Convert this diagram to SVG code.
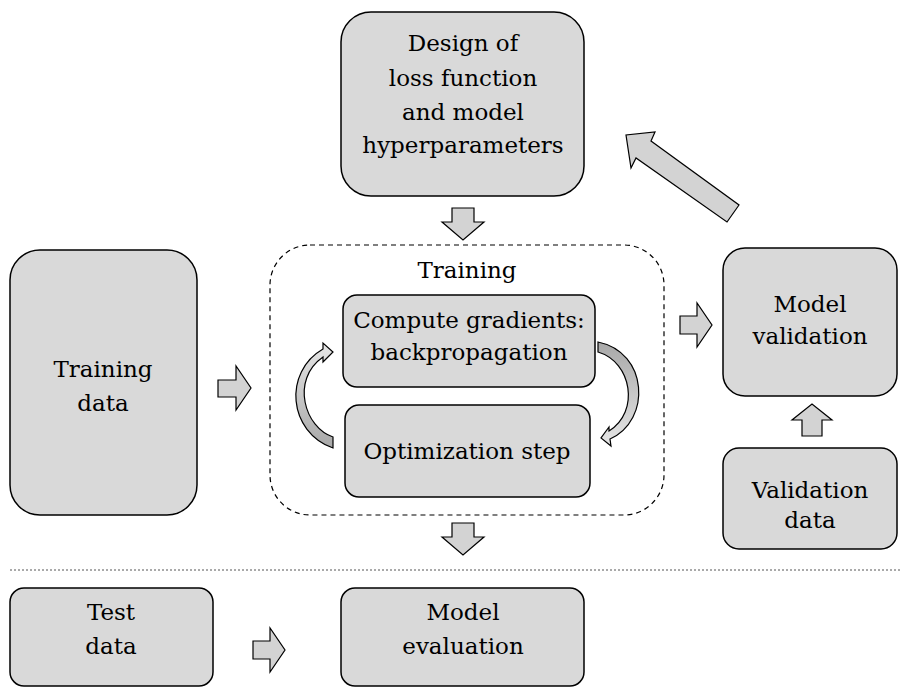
<svg xmlns="http://www.w3.org/2000/svg" width="902" height="687" viewBox="0 0 902 687">
<defs>
<style>
.box{fill:#d9d9d9;stroke:#000;stroke-width:1.5}
.arr{fill:#d3d3d3;stroke:#000;stroke-width:1.2;stroke-linejoin:miter}
.t{font-family:'DejaVu Serif','Liberation Serif',serif;font-size:23px;fill:#000;text-anchor:middle}
</style>
<linearGradient id="gL" x1="0" y1="0" x2="0" y2="1">
<stop offset="0" stop-color="#e6e6e6"/><stop offset="1" stop-color="#a8a8a8"/>
</linearGradient>
<linearGradient id="gR" x1="0" y1="0" x2="0" y2="1">
<stop offset="0" stop-color="#a8a8a8"/><stop offset="1" stop-color="#e6e6e6"/>
</linearGradient>
</defs>
<rect width="902" height="687" fill="#fff"/>
<g id="design">
<rect class="box" x="341" y="12" width="243" height="184" rx="30"/>
<text class="t" x="463" y="51">Design of</text>
<text class="t" x="463" y="86">loss function</text>
<text class="t" x="463" y="120">and model</text>
<text class="t" x="463" y="153">hyperparameters</text>
</g>
<g id="training-data">
<rect class="box" x="10" y="250" width="187" height="265" rx="30"/>
<text class="t" x="103" y="377">Training</text>
<text class="t" x="103" y="411">data</text>
</g>
<g id="training">
<rect x="270" y="245" width="394" height="270" rx="40" fill="none" stroke="#000" stroke-width="1.2" stroke-dasharray="5,4"/>
<text class="t" x="467" y="278">Training</text>
</g>
<g id="compute-gradients">
<rect class="box" x="343" y="295" width="252" height="92" rx="14"/>
<text class="t" x="469" y="328">Compute gradients:</text>
<text class="t" x="469" y="360">backpropagation</text>
</g>
<g id="optimization-step">
<rect class="box" x="345" y="405" width="245" height="92" rx="14"/>
<text class="t" x="467" y="459">Optimization step</text>
</g>
<g id="model-validation">
<rect class="box" x="723" y="248" width="174" height="148" rx="22"/>
<text class="t" x="810" y="312">Model</text>
<text class="t" x="810" y="344">validation</text>
</g>
<g id="validation-data">
<rect class="box" x="723" y="448" width="174" height="101" rx="16"/>
<text class="t" x="810" y="498">Validation</text>
<text class="t" x="810" y="528">data</text>
</g>
<g id="test-data">
<rect class="box" x="10" y="588" width="203" height="98" rx="14"/>
<text class="t" x="111" y="620">Test</text>
<text class="t" x="111" y="654">data</text>
</g>
<g id="model-evaluation">
<rect class="box" x="341" y="588" width="243" height="98" rx="14"/>
<text class="t" x="463" y="620">Model</text>
<text class="t" x="463" y="654">evaluation</text>
</g>
<g id="connectors">
<line x1="10" y1="570" x2="902" y2="570" stroke="#555" stroke-width="1" stroke-dasharray="2,2"/>
<path class="arr" d="M452,208 H474 V222 H484 L463,240 L442,222 H452 Z"/>
<path class="arr" d="M452,523 H474 V537 H484 L463,555 L442,537 H452 Z"/>
<path class="arr" d="M218,380 H236 V366 L251,388 L236,410 V397 H218 Z"/>
<path class="arr" d="M680,316 H697 V303 L712,325 L697,347 V334 H680 Z"/>
<path class="arr" d="M253,641 H270 V628 L285,650 L270,672 V659 H253 Z"/>
<path class="arr" d="M802,436 H822 V420 H832 L812,404 L792,420 H802 Z"/>
<path class="arr" d="M739,205 L727,222 L636,158 L631,168 L626,135 L655,132 L651,141 Z"/>
<path d="M333,448 L333,437 C305,428 290,380 323,357 L323,362 L333,352 L323,343 L323,349 C283,372 288,432 333,448 Z" fill="url(#gL)" stroke="#000" stroke-width="1.2"/>
<path d="M598,342 L598,352 C632,362 640,412 609,431 L609,427 L601,438 L611,446 L610,439 C652,420 648,352 598,342 Z" fill="url(#gR)" stroke="#000" stroke-width="1.2"/>
</g>
</svg>
